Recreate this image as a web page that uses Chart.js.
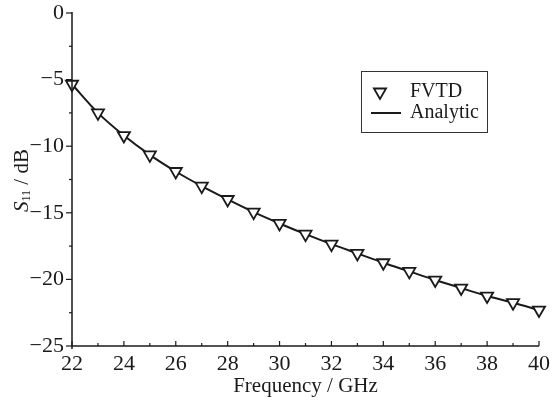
<!DOCTYPE html>
<html>
<head>
<meta charset="utf-8">
<script src="https://cdn.jsdelivr.net/npm/chart.js@4/dist/chart.umd.min.js"></script>
<style>
html,body{margin:0;padding:0;background:#fff;}
#wrap{width:558px;height:402px;position:relative;}
</style>
</head>
<body>
<div id="wrap"><canvas id="c" width="558" height="402"></canvas></div>
<script>
const frequencies = [22,23,24,25,26,27,28,29,30,31,32,33,34,35,36,37,38,39,40];
const fvtd = [-5.35,-7.5,-9.2,-10.65,-11.9,-13.0,-14.0,-14.95,-15.8,-16.6,-17.35,-18.05,-18.75,-19.4,-20.05,-20.65,-21.25,-21.75,-22.3];
const analytic = [-5.35,-7.5,-9.2,-10.65,-11.9,-13.0,-14.0,-14.95,-15.8,-16.6,-17.35,-18.05,-18.75,-19.4,-20.05,-20.65,-21.25,-21.75,-22.3];
const xTickValues = [22,24,26,28,30,32,34,36,38,40];
const yTickValues = [0,-5,-10,-15,-20,-25];
const seriesLabels = ['FVTD','Analytic'];
const xTitle = 'Frequency / GHz';

const FONT = '"Liberation Serif", "DejaVu Serif", serif';
const INK = '#1a1a1a';

const axesPlugin = {
  id: 'axesPlugin',
  afterDraw(chart) {
    const ctx = chart.ctx;
    const xs = chart.scales.x, ys = chart.scales.y;
    const ca = chart.chartArea;
    ctx.save();
    ctx.strokeStyle = INK;
    ctx.lineWidth = 1.5;
    ctx.beginPath();
    ctx.moveTo(ca.left, ys.getPixelForValue(0) - 1);
    ctx.lineTo(ca.left, ys.getPixelForValue(-25) + 3);
    ctx.moveTo(ca.left, ys.getPixelForValue(-25));
    ctx.lineTo(xs.getPixelForValue(40), ys.getPixelForValue(-25));
    ctx.stroke();
    ctx.lineWidth = 1.2;
    for (let v = 0; v >= -25; v -= 2.5) {
      const y = ys.getPixelForValue(v);
      const len = (v % 5 === 0) ? 6 : 3;
      ctx.beginPath();
      ctx.moveTo(ca.left - len, y);
      ctx.lineTo(ca.left, y);
      ctx.stroke();
    }
    for (let v = 22; v <= 40; v += 1) {
      const x = xs.getPixelForValue(v);
      const len = (v % 2 === 0) ? 5 : 3;
      const yb = ys.getPixelForValue(-25);
      ctx.beginPath();
      ctx.moveTo(x, yb);
      ctx.lineTo(x, yb - len);
      ctx.stroke();
    }
    // y title: S11 / dB
    ctx.fillStyle = INK;
    ctx.translate(22, (ca.top + ca.bottom) / 2 + 1);
    ctx.rotate(-Math.PI / 2);
    ctx.textBaseline = 'middle';
    ctx.textAlign = 'left';
    const f1 = 'italic 21px ' + FONT, f2 = '12px ' + FONT, f3 = '21px ' + FONT;
    ctx.font = f1; const w1 = ctx.measureText('S').width;
    ctx.font = f2; const w2 = ctx.measureText('11').width;
    ctx.font = f3; const w3 = ctx.measureText(' / dB').width;
    let x0 = -(w1 + w2 + w3) / 2;
    ctx.font = f1; ctx.fillText('S', x0, 0); x0 += w1;
    ctx.font = f2; ctx.fillText('11', x0, 5); x0 += w2;
    ctx.font = f3; ctx.fillText(' / dB', x0, 0);
    ctx.restore();

    // legend
    ctx.save();
    ctx.strokeStyle = '#333';
    ctx.lineWidth = 1;
    ctx.strokeRect(361.5, 71.5, 126, 61);
    ctx.fillStyle = '#fff'; ctx.strokeStyle = INK; ctx.lineWidth = 1.8;
    Chart.helpers.drawPoint(ctx, {pointStyle:'triangle', rotation:180, radius:7, borderWidth:1.8}, 380, 92);
    ctx.strokeStyle = INK; ctx.lineWidth = 2;
    ctx.beginPath(); ctx.moveTo(371, 113); ctx.lineTo(401, 113); ctx.stroke();
    ctx.fillStyle = INK;
    ctx.font = '20px ' + FONT;
    ctx.textBaseline = 'middle';
    ctx.fillText(chart.data.datasets[0].label, 410, 92);
    ctx.fillText(chart.data.datasets[1].label, 410, 113);
    ctx.restore();
  }
};

new Chart(document.getElementById('c'), {
  type: 'line',
  data: {
    datasets: [
      {
        label: seriesLabels[0],
        data: frequencies.map((f, i) => ({x: f, y: fvtd[i]})),
        showLine: false,
        clip: false,
        pointStyle: 'triangle',
        rotation: 180,
        pointRadius: 7,
        pointBorderWidth: 1.8,
        pointBackgroundColor: '#fff',
        pointBorderColor: INK
      },
      {
        label: seriesLabels[1],
        data: frequencies.map((f, i) => ({x: f, y: analytic[i]})),
        clip: false,
        borderColor: INK,
        borderWidth: 2,
        pointRadius: 0,
        tension: 0.3,
        fill: false
      }
    ]
  },
  options: {
    responsive: false,
    animation: false,
    devicePixelRatio: 1,
    layout: {padding: {left: 0, right: 19, top: 13, bottom: 0}},
    plugins: {legend: {display: false}, tooltip: {enabled: false}},
    scales: {
      x: {
        type: 'linear', min: 22, max: 40,
        grid: {display: false, drawTicks: false},
        border: {display: false},
        afterBuildTicks: s => { s.ticks = xTickValues.map(v => ({value: v})); },
        afterFit: s => { s.height = 56; s.paddingLeft = 0; s.paddingRight = 0; },
        ticks: {color: INK, font: {family: FONT, size: 22}, padding: 5, maxRotation: 0, autoSkip: false,
                callback: v => String(v)},
        title: {display: true, text: xTitle, color: INK, font: {family: FONT, size: 21}, padding: {top: 0, bottom: 3}}
      },
      y: {
        min: -25, max: 0,
        grid: {display: false, drawTicks: false},
        border: {display: false},
        afterBuildTicks: s => { s.ticks = yTickValues.map(v => ({value: v})); },
        afterFit: s => { s.width = 72; s.paddingTop = 0; s.paddingBottom = 0; },
        ticks: {color: INK, font: {family: FONT, size: 22}, padding: 8,
                callback: v => (v < 0 ? '\u2212' + String(-v) : String(v))}
      }
    }
  },
  plugins: [axesPlugin]
});
</script>
</body>
</html>
